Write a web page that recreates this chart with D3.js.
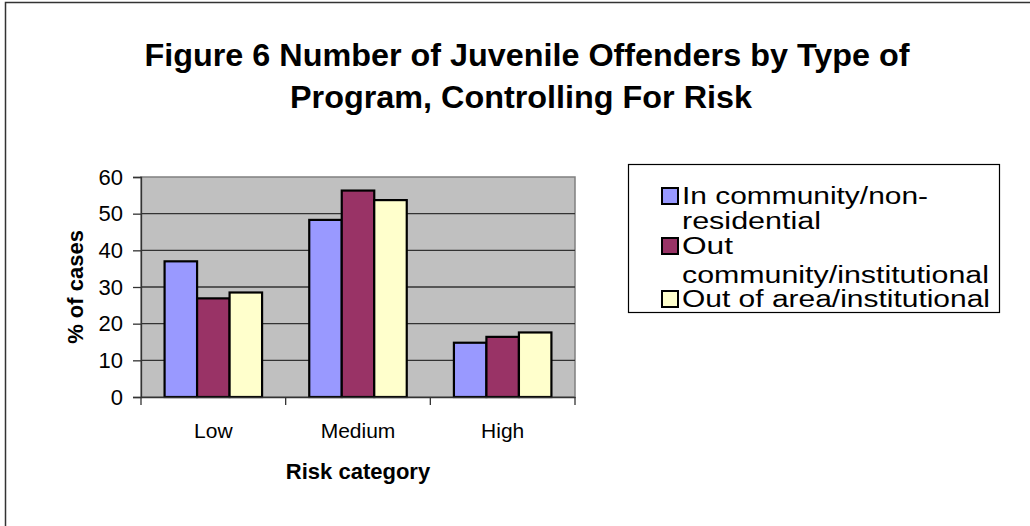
<!DOCTYPE html>
<html><head><meta charset="utf-8">
<script src="https://cdn.jsdelivr.net/npm/d3@7"></script>
<style>body{margin:0;background:#fff}svg{display:block;font-family:"Liberation Sans",Arial,sans-serif}</style>
</head><body>
<svg id="c" width="1030" height="526"></svg>
<script>
const categories = ["Low", "Medium", "High"];
const seriesNames = ["In community/non-residential", "Out community/institutional", "Out of area/institutional"];
const inCommunity = [37, 48.3, 14.8];
const outCommunity = [26.9, 56.3, 16.4];
const outOfArea = [28.5, 53.7, 17.6];
const yTicks = [0, 10, 20, 30, 40, 50, 60];
const legendLines = [["In community/non-", "residential"], ["Out", "community/institutional"], ["Out of area/institutional"]];

const seriesValues = [inCommunity, outCommunity, outOfArea];
const colors = ["#9999FF", "#993366", "#FFFFCC"];
const FF = "Liberation Sans, Arial, sans-serif";

const svg = d3.select("#c");
svg.append("rect").attr("x", 5.5).attr("y", 2.5).attr("width", 1040).attr("height", 540)
  .attr("fill", "none").attr("stroke", "#333").attr("stroke-width", 1.5);

const L = 141, R = 575, T = 177, B = 397;
const x = d3.scaleBand().domain(categories).range([L, R]).paddingInner(0).paddingOuter(0);
const y = d3.scaleLinear().domain([0, 60]).range([B, T]);
const bw = 32.5;
const inner = d3.scaleBand().domain(d3.range(3)).range([0, bw * 3]);

svg.append("rect").attr("x", L).attr("y", T).attr("width", R - L).attr("height", B - T)
  .attr("fill", "#C0C0C0").attr("stroke", "#808080").attr("stroke-width", 1.5);

svg.append("g").selectAll("line").data(yTicks.filter(d => d > 0 && d < 60)).join("line")
  .attr("x1", L).attr("x2", R).attr("y1", d => y(d)).attr("y2", d => y(d))
  .attr("stroke", "#333").attr("stroke-width", 1.3);

const groups = svg.append("g").selectAll("g").data(categories).join("g")
  .attr("transform", c => `translate(${x(c) + (x.bandwidth() - bw * 3) / 2},0)`);
groups.selectAll("rect").data((c, i) => seriesValues.map((s, k) => ({k, v: s[i]}))).join("rect")
  .attr("x", d => inner(d.k)).attr("width", bw)
  .attr("y", d => y(d.v)).attr("height", d => y(0) - y(d.v))
  .attr("fill", d => colors[d.k]).attr("stroke", "#000").attr("stroke-width", 2.2);

// Y axis
const yAxis = d3.axisLeft(y).tickValues(yTicks).tickSize(8).tickPadding(10);
const ya = svg.append("g").attr("transform", `translate(${L},0)`).call(yAxis);
ya.select(".domain").attr("stroke", "#333").attr("stroke-width", 1.3);
ya.selectAll(".tick line").attr("stroke", "#333").attr("stroke-width", 1.3);
ya.selectAll("text").attr("font-size", 22).attr("fill", "#000").attr("font-family", FF);

// X axis
const xa = svg.append("g").attr("transform", `translate(0,${B})`)
  .call(d3.axisBottom(x).tickSize(0).tickPadding(26));
xa.select(".domain").attr("stroke", "#333").attr("stroke-width", 1.3);
xa.selectAll("text").attr("font-size", 21).attr("fill", "#000").attr("font-family", FF);
const bounds = [L].concat(categories.map(c => x(c) + x.bandwidth()));
svg.append("g").selectAll("line").data(bounds).join("line")
  .attr("x1", d => d).attr("x2", d => d).attr("y1", B).attr("y2", B + 8)
  .attr("stroke", "#333").attr("stroke-width", 1.3);

// Titles
const title = svg.append("text").attr("text-anchor", "middle").attr("font-weight", "bold")
  .attr("font-size", 32).attr("fill", "#000");
title.append("tspan").attr("x", 527).attr("y", 66).attr("textLength", 765).attr("lengthAdjust", "spacingAndGlyphs")
  .text("Figure 6 Number of Juvenile Offenders by Type of");
title.append("tspan").attr("x", 521).attr("y", 108).attr("textLength", 462).attr("lengthAdjust", "spacingAndGlyphs")
  .text("Program, Controlling For Risk");

svg.append("text").attr("x", (L + R) / 2).attr("y", 479).attr("text-anchor", "middle")
  .attr("font-weight", "bold").attr("font-size", 22).text("Risk category");
svg.append("text").attr("transform", `translate(83,${(T + B) / 2}) rotate(-90)`).attr("text-anchor", "middle")
  .attr("font-weight", "bold").attr("font-size", 22).text("% of cases");

// Legend
svg.append("rect").attr("x", 628.5).attr("y", 164.5).attr("width", 371).attr("height", 148)
  .attr("fill", "#fff").attr("stroke", "#000").attr("stroke-width", 1.2);
const baselines = [[204, 229], [254, 283], [307]];
const widths = [[246, 139], [51, 307], [308]];
legendLines.forEach((lines, i) => {
  svg.append("rect").attr("x", 662).attr("y", baselines[i][0] - 16).attr("width", 16).attr("height", 16)
    .attr("fill", colors[i]).attr("stroke", "#000").attr("stroke-width", 2);
  lines.forEach((t, j) => {
    svg.append("text").attr("x", 682).attr("y", baselines[i][j]).attr("font-size", 23)
      .attr("textLength", widths[i][j]).attr("lengthAdjust", "spacingAndGlyphs").text(t);
  });
});
</script>
</body></html>
